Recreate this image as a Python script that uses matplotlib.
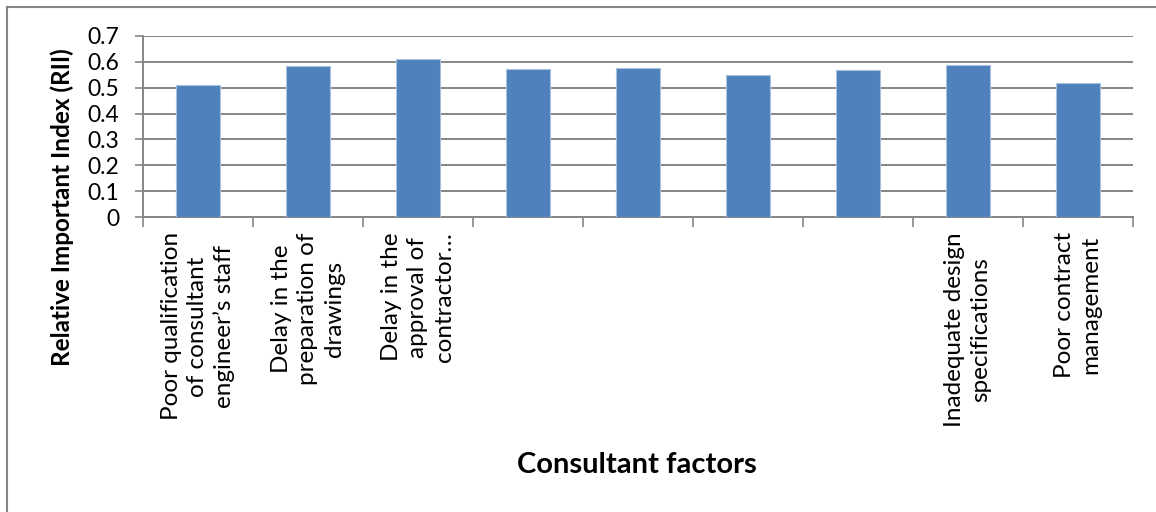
import matplotlib
matplotlib.use("Agg")
import matplotlib.pyplot as plt
from matplotlib.lines import Line2D
import numpy as np

plt.rcParams['font.family'] = ['Lato', 'DejaVu Sans']

# Consultant-related delay factors and their RII scores
factors = [
    "Poor qualification\nof consultant\nengineer\u2019s staff",
    "Delay in the\npreparation of\ndrawings",
    "Delay in the\napproval of\ncontractor\u2026",
    "",
    "",
    "",
    "",
    "Inadequate design\nspecifications",
    "Poor contract\nmanagement",
]
rii = [0.509, 0.584, 0.610, 0.574, 0.577, 0.550, 0.567, 0.589, 0.519]
y_ticks = [0, 0.1, 0.2, 0.3, 0.4, 0.5, 0.6, 0.7]

W, H = 1156, 512
fig = plt.figure(figsize=(W / 100, H / 100), dpi=100)
ax = fig.add_axes([143 / W, 1 - 217 / H, (1133 - 143) / W, (217 - 36) / H])

grid_c = "#868686"
x = np.arange(len(rii))
ax.bar(x, rii, width=0.4, color="#4F81BD", edgecolor="#A9C2E0", linewidth=0.8, zorder=3)

ax.set_xlim(-0.5, len(rii) - 0.5)
ax.set_ylim(0, 0.7)
ax.set_yticks(y_ticks)
ax.set_yticklabels([f"{v:g}" for v in y_ticks])
ax.yaxis.grid(True, color=grid_c, linewidth=1.4, zorder=0)
ax.set_axisbelow(True)

for s in ("top", "right"):
    ax.spines[s].set_visible(False)
for s in ("left", "bottom"):
    ax.spines[s].set_color(grid_c)
    ax.spines[s].set_linewidth(1.4)

ax.tick_params(axis="y", length=6, width=1.2, color=grid_c, labelsize=16.5, pad=11)
ax.set_xticks([])
ax.set_xticks(np.arange(-0.5, len(rii)), minor=True)
ax.tick_params(axis="x", which="minor", length=7, width=1.2, color=grid_c)

# Category labels, rotated and hung below the axis
for xi, lab in zip(x, factors):
    if lab:
        ax.annotate(lab, xy=(xi, 0), xycoords="data", xytext=(0, -11),
                    textcoords="offset points", rotation=90, ha="center",
                    va="top", multialignment="center", fontsize=17.5,
                    linespacing=1.3)

fig.text(62 / W, 1 - 207 / H, "Relative Important Index (RII)", rotation=90,
         ha="center", va="center", fontsize=17.5, fontweight="bold")
fig.text(637 / W, 1 - 465 / H, "Consultant factors", ha="center",
         va="center", fontsize=21, fontweight="bold")

# Chart-area border
fig.add_artist(Line2D([7 / W, 7 / W], [0, 1 - 7 / H], color=grid_c, lw=1.5,
                      transform=fig.transFigure))
fig.add_artist(Line2D([7 / W, 1], [1 - 7 / H, 1 - 7 / H], color=grid_c, lw=1.5,
                      transform=fig.transFigure))

fig.savefig("out.png", dpi=100)
